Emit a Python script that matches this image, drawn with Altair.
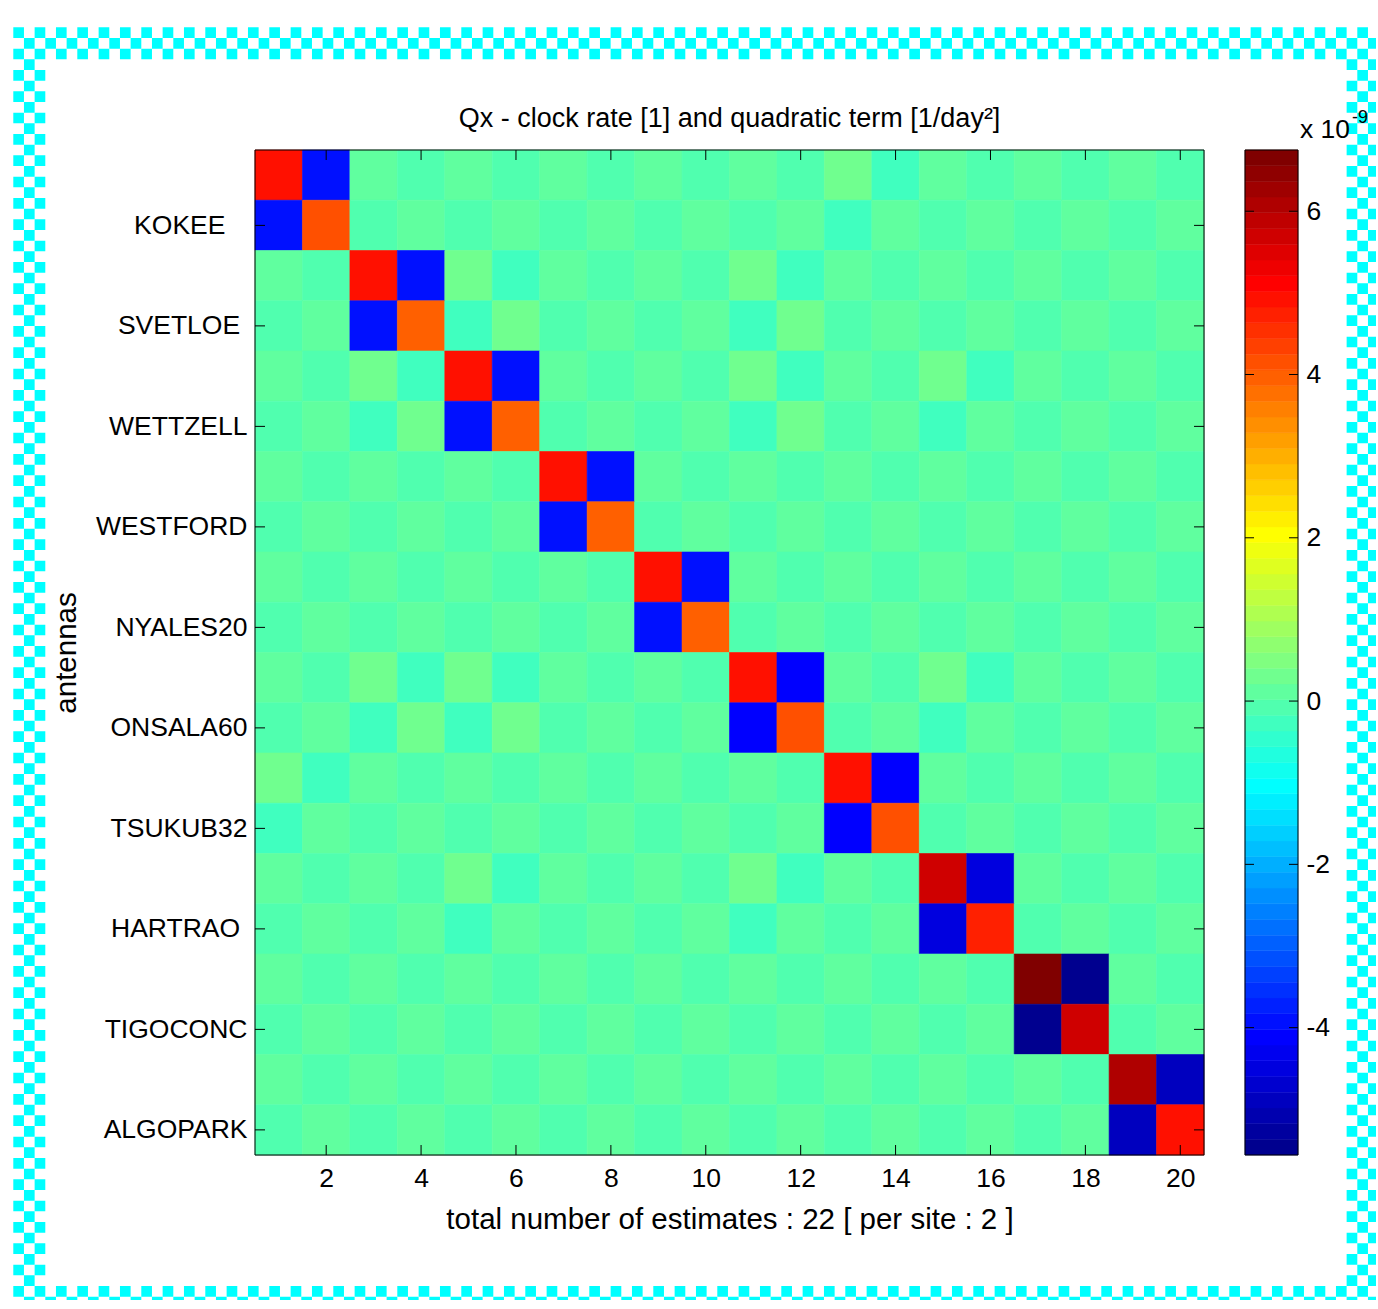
import math
import altair as alt
import pandas as pd

# ---------------- data (values in units of 1e-9) ----------------
sites = ["KOKEE", "SVETLOE", "WETTZELL", "WESTFORD", "NYALES20",
         "ONSALA60", "TSUKUB32", "HARTRAO", "TIGOCONC", "ALGOPARK"]

row01 = [4.92, -3.93, 0.11, -0.08, 0.11, -0.08, 0.11, -0.08, 0.11, -0.08, 0.11, -0.08, 0.31, -0.27, 0.11, -0.08, 0.11, -0.08, 0.11, -0.08]
row02 = [-3.93, 4.15, -0.08, 0.11, -0.08, 0.11, -0.08, 0.11, -0.08, 0.11, -0.08, 0.11, -0.27, 0.11, -0.08, 0.11, -0.08, 0.11, -0.08, 0.11]
row03 = [0.11, -0.08, 4.92, -3.93, 0.31, -0.27, 0.11, -0.08, 0.11, -0.08, 0.31, -0.27, 0.11, -0.08, 0.11, -0.08, 0.11, -0.08, 0.11, -0.08]
row04 = [-0.08, 0.11, -3.93, 3.96, -0.27, 0.31, -0.08, 0.11, -0.08, 0.11, -0.27, 0.31, -0.08, 0.11, -0.08, 0.11, -0.08, 0.11, -0.08, 0.11]
row05 = [0.11, -0.08, 0.31, -0.27, 4.92, -3.93, 0.11, -0.08, 0.11, -0.08, 0.31, -0.27, 0.11, -0.08, 0.31, -0.27, 0.11, -0.08, 0.11, -0.08]
row06 = [-0.08, 0.11, -0.27, 0.31, -3.93, 3.96, -0.08, 0.11, -0.08, 0.11, -0.27, 0.31, -0.08, 0.11, -0.27, 0.11, -0.08, 0.11, -0.08, 0.11]
row07 = [0.11, -0.08, 0.11, -0.08, 0.11, -0.08, 4.92, -3.93, 0.11, -0.08, 0.11, -0.08, 0.11, -0.08, 0.11, -0.08, 0.11, -0.08, 0.11, -0.08]
row08 = [-0.08, 0.11, -0.08, 0.11, -0.08, 0.11, -3.93, 3.96, -0.08, 0.11, -0.08, 0.11, -0.08, 0.11, -0.08, 0.11, -0.08, 0.11, -0.08, 0.11]
row09 = [0.11, -0.08, 0.11, -0.08, 0.11, -0.08, 0.11, -0.08, 4.92, -3.93, 0.11, -0.08, 0.11, -0.08, 0.11, -0.08, 0.11, -0.08, 0.11, -0.08]
row10 = [-0.08, 0.11, -0.08, 0.11, -0.08, 0.11, -0.08, 0.11, -3.93, 3.96, -0.08, 0.11, -0.08, 0.11, -0.08, 0.11, -0.08, 0.11, -0.08, 0.11]
row11 = [0.11, -0.08, 0.31, -0.27, 0.31, -0.27, 0.11, -0.08, 0.11, -0.08, 4.92, -4.12, 0.11, -0.08, 0.31, -0.27, 0.11, -0.08, 0.11, -0.08]
row12 = [-0.08, 0.11, -0.27, 0.31, -0.27, 0.31, -0.08, 0.11, -0.08, 0.11, -4.12, 4.15, -0.08, 0.11, -0.27, 0.11, -0.08, 0.11, -0.08, 0.11]
row13 = [0.31, -0.27, 0.11, -0.08, 0.11, -0.08, 0.11, -0.08, 0.11, -0.08, 0.11, -0.08, 4.92, -4.12, 0.11, -0.08, 0.11, -0.08, 0.11, -0.08]
row14 = [-0.27, 0.11, -0.08, 0.11, -0.08, 0.11, -0.08, 0.11, -0.08, 0.11, -0.08, 0.11, -4.12, 4.15, -0.08, 0.11, -0.08, 0.11, -0.08, 0.11]
row15 = [0.11, -0.08, 0.11, -0.08, 0.31, -0.27, 0.11, -0.08, 0.11, -0.08, 0.31, -0.27, 0.11, -0.08, 5.69, -4.50, 0.11, -0.08, 0.11, -0.08]
row16 = [-0.08, 0.11, -0.08, 0.11, -0.27, 0.11, -0.08, 0.11, -0.08, 0.11, -0.27, 0.11, -0.08, 0.11, -4.50, 4.73, -0.08, 0.11, -0.08, 0.11]
row17 = [0.11, -0.08, 0.11, -0.08, 0.11, -0.08, 0.11, -0.08, 0.11, -0.08, 0.11, -0.08, 0.11, -0.08, 0.11, -0.08, 6.75, -5.56, 0.11, -0.08]
row18 = [-0.08, 0.11, -0.08, 0.11, -0.08, 0.11, -0.08, 0.11, -0.08, 0.11, -0.08, 0.11, -0.08, 0.11, -0.08, 0.11, -5.56, 5.69, -0.08, 0.11]
row19 = [0.11, -0.08, 0.11, -0.08, 0.11, -0.08, 0.11, -0.08, 0.11, -0.08, 0.11, -0.08, 0.11, -0.08, 0.11, -0.08, 0.11, -0.08, 6.08, -4.89]
row20 = [-0.08, 0.11, -0.08, 0.11, -0.08, 0.11, -0.08, 0.11, -0.08, 0.11, -0.08, 0.11, -0.08, 0.11, -0.08, 0.11, -0.08, 0.11, -4.89, 4.92]

matrix_rows = [row01, row02, row03, row04, row05, row06, row07, row08, row09, row10,
               row11, row12, row13, row14, row15, row16, row17, row18, row19, row20]

axis_ticks = [2, 4, 6, 8, 10, 12, 14, 16, 18, 20]
cbar_ticks = [-4, -2, 0, 2, 4, 6]

TITLE = "Qx - clock rate [1] and quadratic term [1/day\u00b2]"
XTITLE = "total number of estimates : 22 [ per site : 2 ]"
YTITLE = "antennas"

# ---------------- colormap (MATLAB jet, 64 levels) ----------------
def jet_colors(m):
    n = math.ceil(m / 4)
    u = [i / n for i in range(1, n + 1)] + [1.0] * (n - 1) + [i / n for i in range(n, 0, -1)]
    g0 = math.ceil(n / 2) - (1 if m % 4 == 1 else 0)
    J = [[0.0, 0.0, 0.0] for _ in range(m)]
    for i, val in enumerate(u):
        g = g0 + i + 1
        r = g + n
        b = g - n
        if 1 <= r <= m:
            J[r - 1][0] = val
        if 1 <= g <= m:
            J[g - 1][1] = val
        if 1 <= b <= m:
            J[b - 1][2] = val
    return ["#%02x%02x%02x" % tuple(int(round(c * 255)) for c in row) for row in J]

NLEV = 64
jet = jet_colors(NLEV)

records = []
for ri, row in enumerate(matrix_rows):
    for ci, v in enumerate(row):
        r, c = ri + 1, ci + 1
        records.append({"row": r, "col": c, "v": v,
                        "x0": c - 0.5, "x1": c + 0.5, "y0": r - 0.5, "y1": r + 0.5})
df = pd.DataFrame(records)
cmin = float(df["v"].min())
cmax = float(df["v"].max())

step = (cmax - cmin) / NLEV
bands = pd.DataFrame({
    "lo": [cmin + i * step for i in range(NLEV)],
    "hi": [cmin + (i + 1) * step for i in range(NLEV)],
    "mid": [cmin + (i + 0.5) * step for i in range(NLEV)],
})

W, H = 949, 1005
FONT = "Liberation Sans"
one = pd.DataFrame({"k": [0]})

xscale = alt.Scale(domain=[0.5, 20.5], nice=False, zero=False)
yscale = alt.Scale(domain=[0.5, 20.5], nice=False, zero=False, reverse=True)
cscale = alt.Scale(type="quantize", domain=[cmin, cmax], range=jet, nice=False, zero=False)

# MATLAB pads the site names to 8 characters; keep the padding visible
padded = [s + "\u00a0" * (8 - len(s)) + "\u200b" for s in sites]
label_expr = "[" + ",".join("'" + p + "'" for p in padded) + "][round(datum.value/2)-1]"

xaxis = alt.Axis(values=axis_ticks, format="d", ticks=False, domain=False, grid=False,
                 labelFontSize=26.5, labelPadding=10, labelColor="black", labelFont=FONT,
                 title=XTITLE, titleFontSize=29.5, titleFontWeight="normal", titleFont=FONT,
                 titleColor="black", titleY=73, titleBaseline="alphabetic")
yaxis = alt.Axis(values=axis_ticks, labelExpr=label_expr, ticks=False, domain=False,
                 grid=False, labelFontSize=26.5, labelPadding=8, labelColor="black",
                 labelFont=FONT, labelLimit=400, title=YTITLE, titleFontSize=29.5,
                 titleFontWeight="normal", titleFont=FONT, titleColor="black", titleX=-180,
                 titleY=H / 2, titleAngle=270, titleBaseline="alphabetic", titleAlign="center")

heat = alt.Chart(df).mark_rect(strokeWidth=0.6).encode(
    x=alt.X("x0:Q", scale=xscale, axis=xaxis),
    x2="x1:Q",
    y=alt.Y("y0:Q", scale=yscale, axis=yaxis),
    y2="y1:Q",
    color=alt.Color("v:Q", scale=cscale, legend=None),
    stroke=alt.Stroke("v:Q", scale=cscale, legend=None),
)

tick_df = pd.DataFrame({"x0": axis_ticks, "y0": axis_ticks})
TL = 10
tick_top = alt.Chart(tick_df).mark_rule(color="black", strokeWidth=1).encode(
    x=alt.X("x0:Q", scale=xscale, axis=xaxis), y=alt.value(0), y2=alt.value(TL))
tick_bot = alt.Chart(tick_df).mark_rule(color="black", strokeWidth=1).encode(
    x=alt.X("x0:Q", scale=xscale, axis=xaxis), y=alt.value(H - TL), y2=alt.value(H))
tick_left = alt.Chart(tick_df).mark_rule(color="black", strokeWidth=1).encode(
    y=alt.Y("y0:Q", scale=yscale, axis=yaxis), x=alt.value(0), x2=alt.value(TL))
tick_right = alt.Chart(tick_df).mark_rule(color="black", strokeWidth=1).encode(
    y=alt.Y("y0:Q", scale=yscale, axis=yaxis), x=alt.value(W - TL), x2=alt.value(W))
frame = alt.Chart(one).mark_rect(fillOpacity=0, stroke="black", strokeWidth=1).encode(
    x=alt.value(0), x2=alt.value(W), y=alt.value(0), y2=alt.value(H))

main = alt.layer(heat, tick_top, tick_bot, tick_left, tick_right, frame)

# ---------------- colorbar ----------------
CB_X0, CB_X1 = 990, 1043
cbscale = alt.Scale(domain=[cmin, cmax], nice=False, zero=False)
cbaxis = alt.Axis(orient="right", offset=CB_X1 - W, values=cbar_ticks, ticks=False,
                  labelExpr="'' + datum.value",
                  domain=False, grid=False, labelFontSize=26.5, labelPadding=8,
                  labelColor="black", labelFont=FONT, title=None)
cb_rect = alt.Chart(bands).mark_rect(strokeWidth=0.5).encode(
    x=alt.value(CB_X0), x2=alt.value(CB_X1),
    y=alt.Y("lo:Q", scale=cbscale, axis=cbaxis),
    y2="hi:Q",
    color=alt.Color("mid:Q", scale=cscale, legend=None),
    stroke=alt.Stroke("mid:Q", scale=cscale, legend=None),
)
cbt_df = pd.DataFrame({"lo": cbar_ticks})
cb_tl = alt.Chart(cbt_df).mark_rule(color="black", strokeWidth=1).encode(
    y=alt.Y("lo:Q", scale=cbscale, axis=cbaxis), x=alt.value(CB_X0), x2=alt.value(CB_X0 + 9))
cb_tr = alt.Chart(cbt_df).mark_rule(color="black", strokeWidth=1).encode(
    y=alt.Y("lo:Q", scale=cbscale, axis=cbaxis), x=alt.value(CB_X1 - 9), x2=alt.value(CB_X1))
cb_border = alt.Chart(one).mark_rect(fillOpacity=0, stroke="black", strokeWidth=1).encode(
    x=alt.value(CB_X0), x2=alt.value(CB_X1), y=alt.value(0), y2=alt.value(H))
cbar = alt.layer(cb_rect, cb_tl, cb_tr, cb_border)

# ---------------- checkered cyan frame (decoration) ----------------
s = 32 / 3
gx0, gy0 = -241.7, -122.7
deco = []
def hband(r):
    y = gy0 + (r + 0.5) * s
    off = 0 if r % 2 == 0 else s
    return alt.Chart(one).mark_rule(color="#00ffff", strokeWidth=s, strokeDash=[s, s],
                                    strokeDashOffset=off, strokeCap="butt").encode(
        x=alt.value(gx0), x2=alt.value(gx0 + 130 * s), y=alt.value(y))
def vband(c):
    x = gx0 + (c + 0.5) * s
    off = 0 if (3 + c) % 2 == 0 else s
    return alt.Chart(one).mark_rule(color="#00ffff", strokeWidth=s, strokeDash=[s, s],
                                    strokeDashOffset=off, strokeCap="butt").encode(
        x=alt.value(x), y=alt.value(gy0 + 3 * s), y2=alt.value(gy0 + 118 * s))
for r in [0, 1, 2, 118, 119]:
    deco.append(hband(r))
for c in [0, 1, 2, 125, 126, 127]:
    deco.append(vband(c))

# ---------------- texts ----------------
title_txt = alt.Chart(one).mark_text(text=TITLE, fontSize=27, font=FONT, align="center",
                                     baseline="alphabetic", color="black").encode(
    x=alt.value(W / 2), y=alt.value(-23))
x10_txt = alt.Chart(one).mark_text(text="x 10", fontSize=26.5, font=FONT, align="left",
                                   baseline="alphabetic", color="black").encode(
    x=alt.value(1045), y=alt.value(-12))
exp_txt = alt.Chart(one).mark_text(text="-9", fontSize=18, font=FONT, align="left",
                                   baseline="alphabetic", color="black").encode(
    x=alt.value(1097), y=alt.value(-27))

chart = alt.layer(main, cbar, *deco, title_txt, x10_txt, exp_txt).resolve_scale(
    y="independent"
).properties(
    width=W, height=H,
    autosize=alt.AutoSizeParams(type="none"),
    padding={"left": 255, "top": 150, "right": 172, "bottom": 145},
).configure_view(stroke="black", strokeWidth=1).configure(font=FONT)

chart.save("out.html", embed_options={"renderer": "svg", "actions": False})
